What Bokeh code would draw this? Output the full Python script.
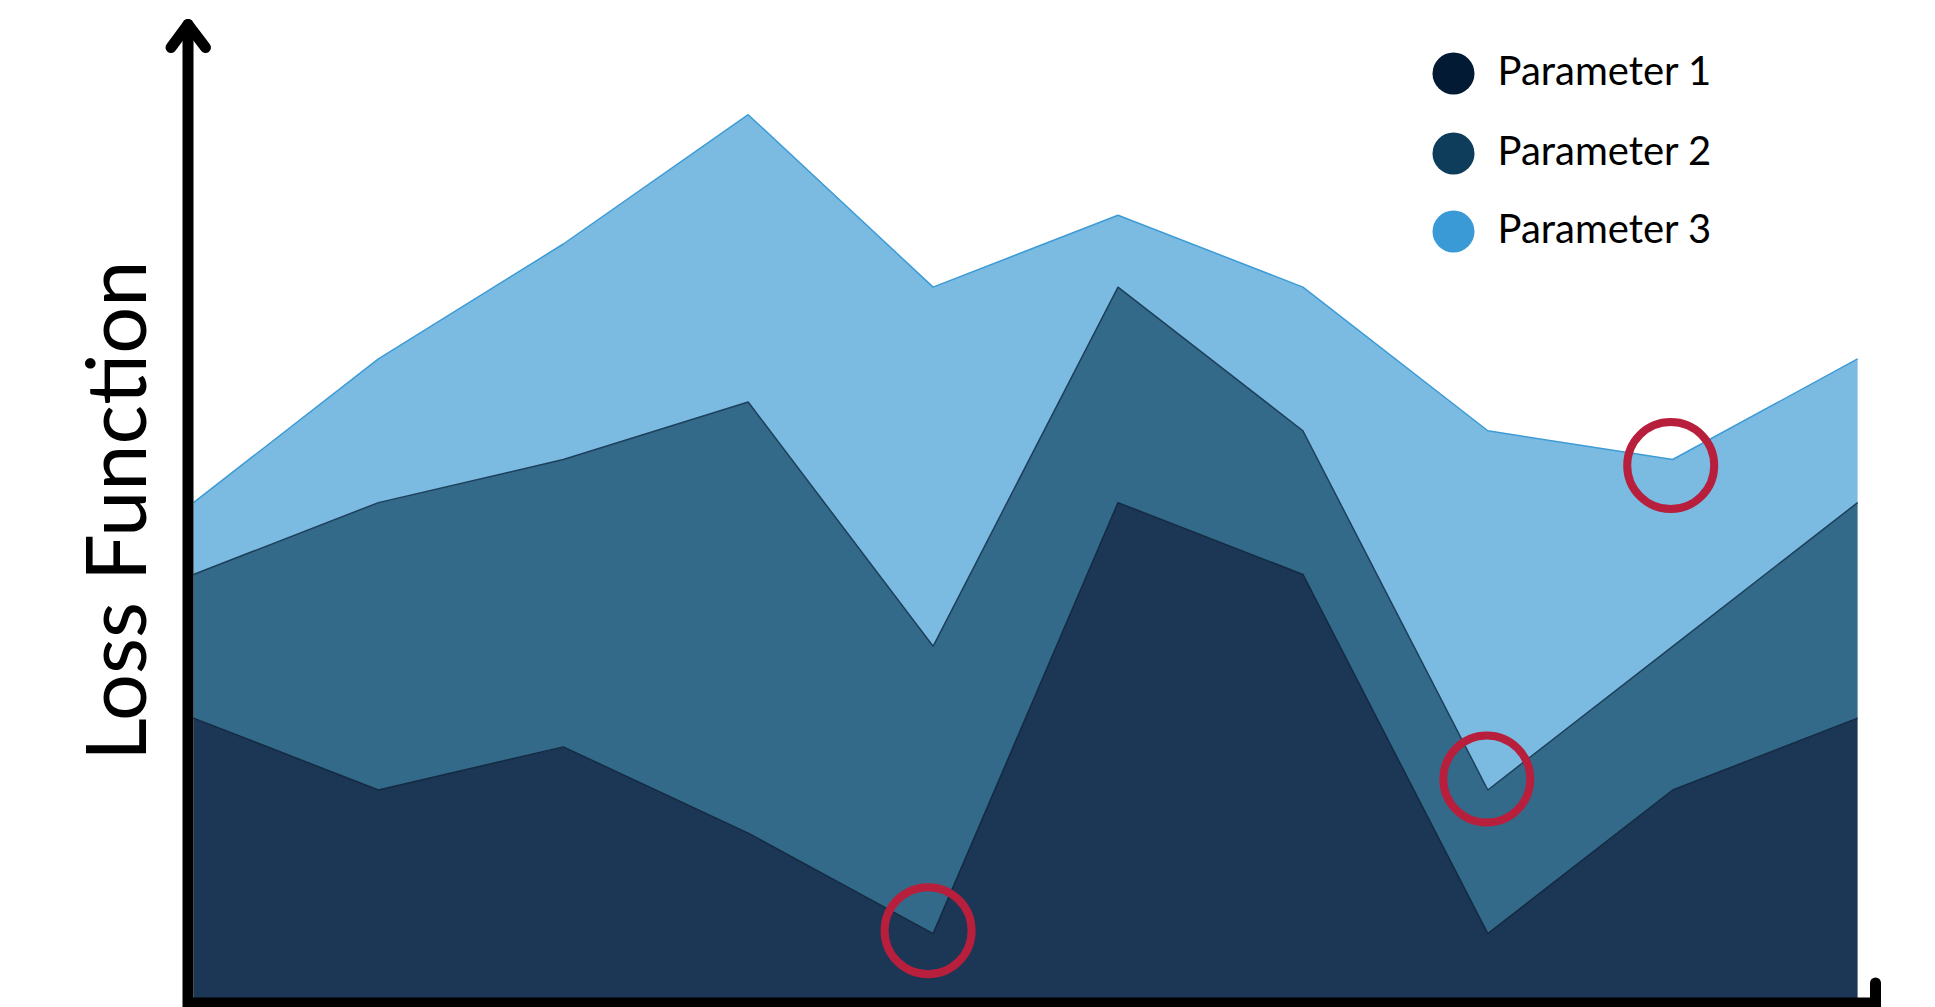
import math
from bokeh.plotting import figure
from bokeh.models import Range1d
from bokeh.core.properties import value
from bokeh.embed import file_html
from bokeh.resources import INLINE

# ---------------- data ----------------
steps = list(range(10))
param1 = [4, 3, 3.6, 2.4, 1, 7, 6, 1, 3, 4]
param2 = [2, 4, 4, 6, 4, 3, 2, 2, 2, 3]
param3 = [1, 2, 3, 4, 5, 1, 2, 5, 2.6, 2]
series_names = ["Parameter 1", "Parameter 2", "Parameter 3"]
y_label = "Loss Function"
# highlighted (circled) points: step index and series index
highlight_steps = [4, 7, 8]
highlight_series = [0, 1, 2]

# ---------------- styles ----------------
area_colors = ["#1b3755", "#346a89", "#7bbbe2"]
edge_colors = ["#132a42", "#1d3f5a", "#3d9bd6"]
legend_colors = ["#021a33", "#0e3d5c", "#3a9ad6"]
ring_color = "#b81f3c"
FONT = "Lato"

W, H = 1935, 1007

# data ranges chosen so that step 0 sits at x=193px and value 0 at y=1005px
sx = 184.9
sy = 71.84
x0 = 0 - 193 / sx
y_top = 1005 / sy
XR = (x0, x0 + W / sx)
YR = (y_top - H / sy, y_top)


def dx(px):
    return XR[0] + px / sx


def dy(py):
    return YR[1] - py / sy


def ux(n):
    return n / sx


def uy(n):
    return n / sy


p = figure(width=W, height=H, output_backend="svg", toolbar_location=None,
           x_range=Range1d(*XR), y_range=Range1d(*YR), min_border=0)
p.axis.visible = False
p.grid.visible = False
p.outline_line_color = None
p.background_fill_color = "white"
p.border_fill_color = "white"

# stacked areas
series = [param1, param2, param3]
cum = []
base = [0.0] * len(steps)
for s in series:
    top = [b + v for b, v in zip(base, s)]
    cum.append((list(base), top))
    base = top

for (lo, hi), fc in zip(cum, area_colors):
    p.varea(x=steps, y1=lo, y2=hi, fill_color=fc, fill_alpha=1.0)
for (lo, hi), lc in zip(cum, edge_colors):
    p.line(x=steps, y=hi, line_color=lc, line_width=1.5)

# highlight rings
ring_offsets_px = [(-5, -3), (-1, -11), (-2, 6)]
rx, ry = [], []
for si, ser, (ox, oy) in zip(highlight_steps, highlight_series, ring_offsets_px):
    rx.append(steps[si] + ux(ox))
    ry.append(cum[ser][1][si] - uy(oy))
p.scatter(x=rx, y=ry, marker="circle", size=87, fill_color=None,
          line_color=ring_color, line_width=8)

# axes drawn by hand
AX = 187.5
p.line(x=[dx(AX), dx(AX)], y=[dy(24), dy(1030)], line_color="black",
       line_width=11, line_cap="round")
p.line(x=[dx(170.5), dx(AX), dx(205)], y=[dy(47), dy(24), dy(47)],
       line_color="black", line_width=11, line_cap="round", line_join="round")
p.line(x=[dx(AX), dx(1875)], y=[dy(1002.5), dy(1002.5)], line_color="black",
       line_width=11, line_cap="butt")
p.line(x=[dx(1875), dx(1875)], y=[dy(982.5), dy(1030)], line_color="black",
       line_width=11, line_cap="round")

# y label
LF = 83
p.text(x=[dx(146 - 0.39 * LF)], y=[dy(510)], text=[y_label], angle=math.pi / 2,
       text_align="center", text_baseline="alphabetic",
       text_font=value(FONT), text_font_size=f"{LF}px", text_color="black")

# legend
leg_y = [73, 153, 231]
TF = 40
p.scatter(x=[dx(1453)] * 3, y=[dy(v) for v in leg_y], marker="circle",
          size=42, fill_color=legend_colors, line_color=None)
p.text(x=[dx(1497)] * 3, y=[dy(v + 12 - 0.39 * TF) for v in leg_y], text=series_names,
       text_align="left", text_baseline="alphabetic",
       text_font=value(FONT), text_font_size=f"{TF}px", text_color="black")

open("out.html", "w").write(file_html(p, INLINE))
